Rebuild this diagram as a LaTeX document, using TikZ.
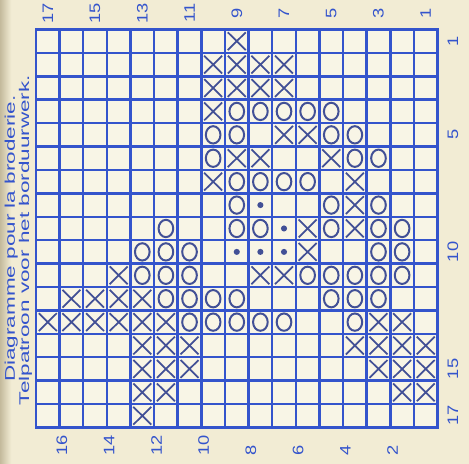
\documentclass[tikz,border=0pt]{standalone}
\usepackage{fontspec}
\setsansfont{Liberation Sans}
\usetikzlibrary{calc}
\definecolor{chartpaper}{RGB}{242,236,212}
\definecolor{chartcell}{RGB}{248,245,230}
\definecolor{chartshade}{RGB}{196,186,156}
\definecolor{chartblue}{RGB}{52,84,204}
\definecolor{chartink}{RGB}{66,80,150}
\newcommand{\widen}[2]{\scalebox{#1}[1]{#2}}
\tikzset{
 emb grid/.style={chartblue,line width=2.1pt},
 emb border/.style={chartblue,line width=2.5pt},
 emb cross/.style={chartink,line width=1.5pt},
 emb ring/.style={chartink,line width=1.7pt},
 emb dot/.style={fill=chartink},
 emb number/.style={text=chartblue,font=\sffamily\fontsize{13}{15}\selectfont,
                    rotate=90,inner sep=0pt},
 emb caption/.style={text=chartblue,font=\sffamily\fontsize{12}{14}\selectfont,
                     rotate=90,inner sep=0pt,anchor=base west}
}

\begin{document}
\begin{tikzpicture}[x=0.7086cm,y=-0.7023cm]
 \useasboundingbox (-1.524,-1.260) rectangle (18.332,18.560);
 \fill[chartpaper] (-1.524,-1.260) rectangle (18.332,18.560);
 \shade[left color=chartshade,right color=chartpaper] (-1.524,-1.260) rectangle (-1.05,18.560);
 \fill[chartcell] (0,0) rectangle (17,17);

 % 17 x 17 counting grid, cell (c,r) spans [c,c+1] x [r,r+1]
 \foreach \i in {0,...,17}{
   \draw[emb grid] (\i,0) -- (\i,17);
   \draw[emb grid] (0,\i) -- (17,\i);
 }
 \draw[emb border] (0,0) rectangle (17,17);

 % cross stitches
 \foreach \c/\r in {8/0,7/1,8/1,9/1,10/1,7/2,8/2,9/2,10/2,7/3,10/4,11/4,
   8/5,9/5,12/5,7/6,13/6,13/7,11/8,13/8,11/9,3/10,9/10,10/10,
   1/11,2/11,3/11,4/11,0/12,1/12,2/12,3/12,4/12,5/12,14/12,15/12,
   4/13,5/13,6/13,13/13,14/13,15/13,16/13,4/14,5/14,6/14,14/14,15/14,16/14,
   4/15,5/15,15/15,16/15,4/16}{
   \draw[emb cross] (\c+.12,\r+.12) -- (\c+.88,\r+.88)
                    (\c+.88,\r+.12) -- (\c+.12,\r+.88);
 }
 % ring stitches
 \foreach \c/\r in {8/3,9/3,10/3,11/3,12/3,7/4,8/4,12/4,13/4,7/5,13/5,14/5,
   8/6,9/6,10/6,11/6,8/7,12/7,14/7,5/8,8/8,9/8,12/8,14/8,15/8,
   4/9,5/9,6/9,14/9,15/9,4/10,5/10,6/10,11/10,12/10,13/10,14/10,15/10,
   5/11,6/11,7/11,8/11,12/11,13/11,14/11,6/12,7/12,8/12,9/12,10/12,13/12}{
   \draw[emb ring] (\c+.5,\r+.5) ellipse [x radius=.31,y radius=.37];
 }
 % french knots
 \foreach \c/\r in {9/7,10/8,8/9,9/9,10/9}
   \fill[emb dot] (\c+.5,\r+.5) circle [radius=.13];

 % stitch counts
 \foreach \c [evaluate=\c as \lab using int(17-\c)] in {0,2,...,16}
   \node[emb number] (col\lab) at (\c+.5,-.7) {\widen{1.2}{\lab}};
 \foreach \c [evaluate=\c as \lab using int(17-\c)] in {1,3,...,15}
   \node[emb number,anchor=west] (col\lab) at (\c+.1,18.22) {\widen{1.2}{\lab}};
 \foreach \r [evaluate=\r as \lab using int(\r+1)] in {0,4,9,14,16}
   \node[emb number] (row\lab) at (17.65,\r+.5) {\widen{1.2}{\lab}};

 \node[emb caption] (capfr) at (-0.889,15.06) {\widen{1.6}{Diagramme pour la broderie.}};
 \node[emb caption] (capnl) at (-0.296,16.06) {\widen{1.6}{Telpatroon voor het borduurwerk.}};
\end{tikzpicture}
\end{document}
